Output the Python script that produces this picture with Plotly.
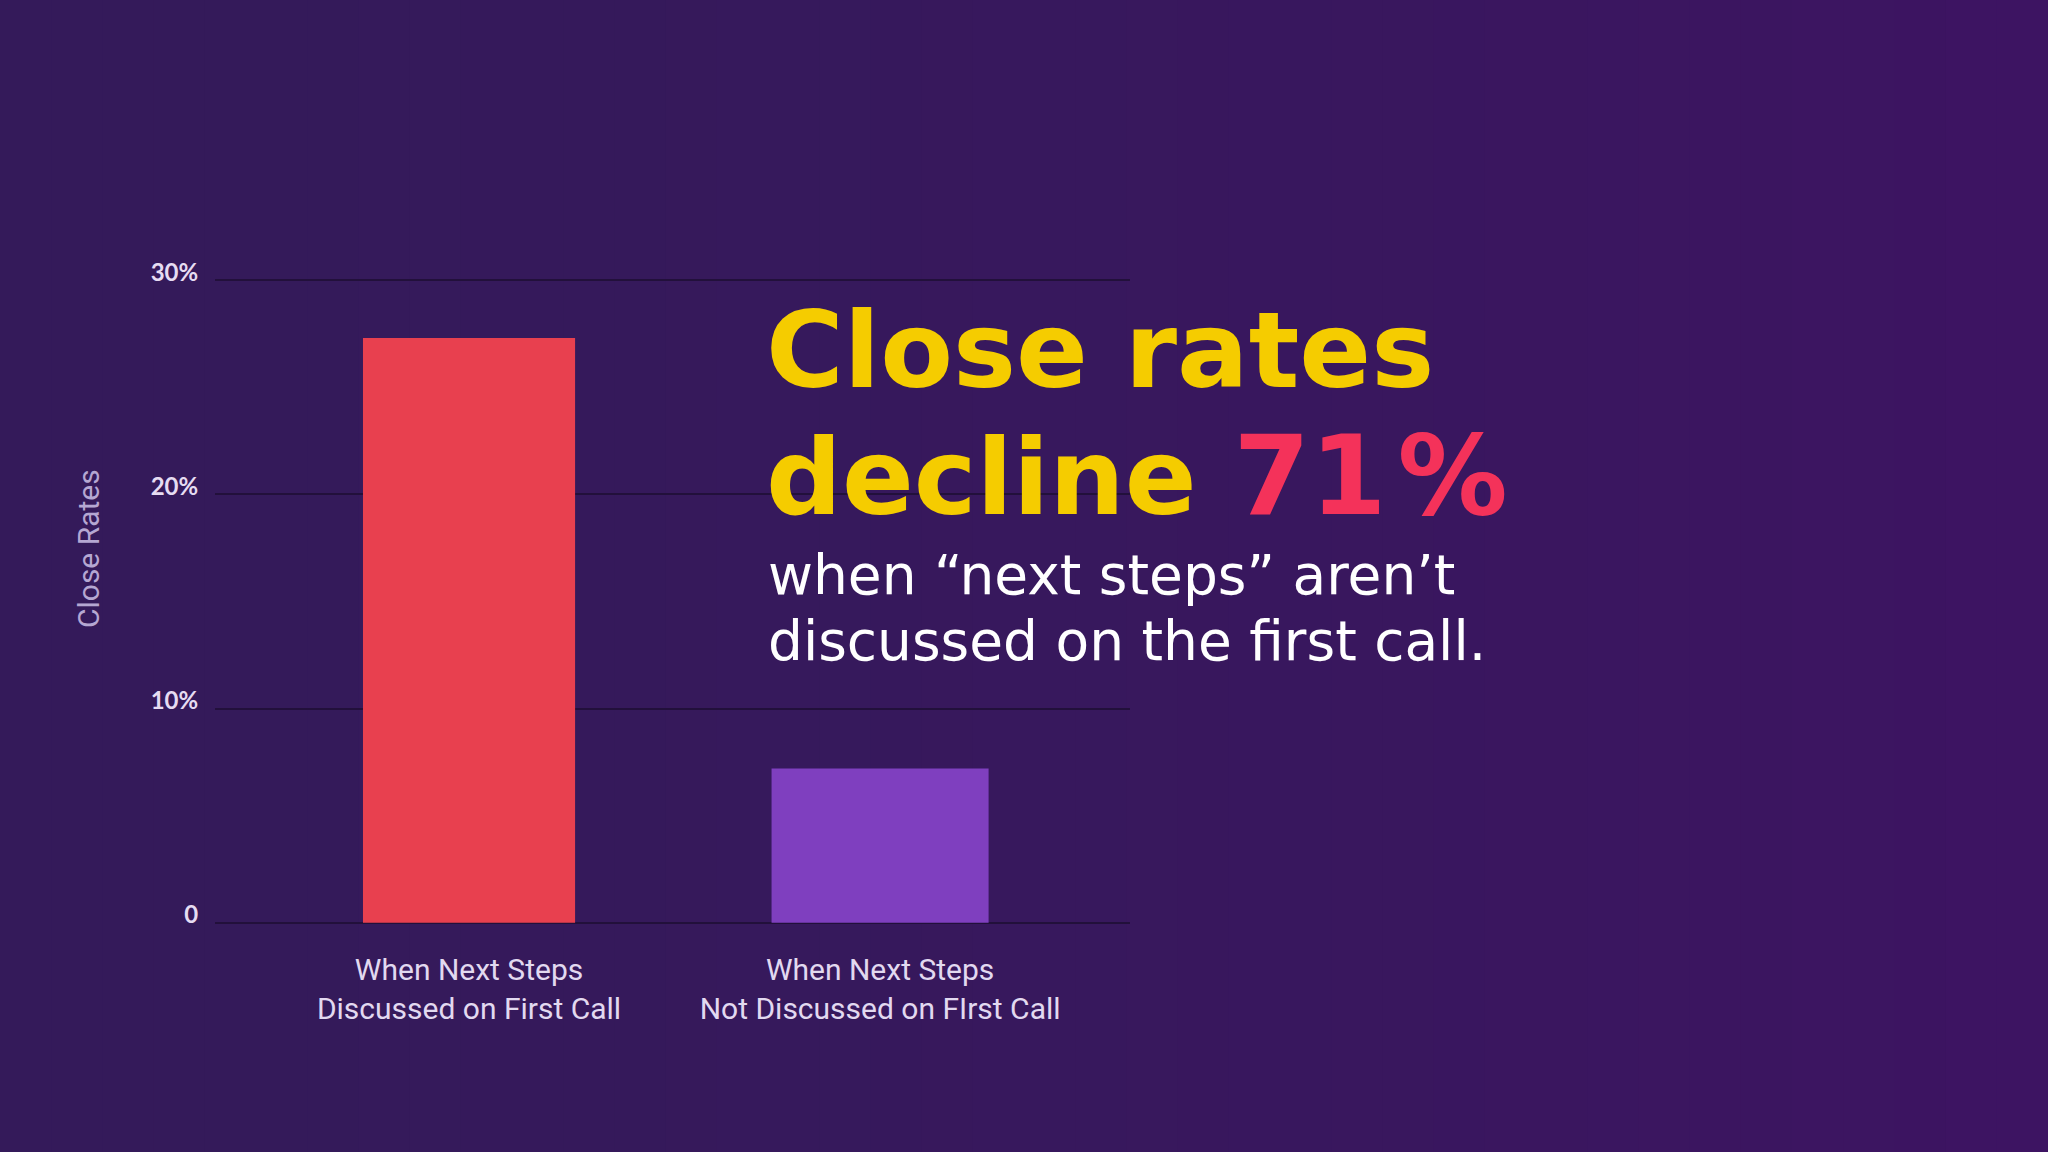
import plotly.graph_objects as go

# ---- data ----
categories = ["When Next Steps<br>Discussed on First Call",
              "When Next Steps<br>Not Discussed on FIrst Call"]
close_rates = [27.3, 7.2]
bar_colors = ["#e8404f", "#7f3fbf"]
y_tickvals = [0, 10, 20, 30]
y_ticktext = ["0", "10%", "20%", "30%"]
y_title = "Close Rates"
headline_1 = "Close rates"
headline_2a = "decline "
headline_2b = "71\u200a%"
sub_1 = "when \u201cnext steps\u201d aren\u2019t"
sub_2 = "discussed on the first call."

W, H = 2048, 1152
Y0_PX, Y30_PX = 923, 280            # pixel rows of 0% and 30%
PPU = (Y0_PX - Y30_PX) / 30.0       # pixels per percent
EXT = 0.2                           # small range extension so edge gridlines show
L, R = 215, 1130
T = Y30_PX - EXT * PPU
B = Y0_PX + EXT * PPU

def px(xp):
    return (xp - L) / (R - L)

def py(yp):
    return (B - yp) / (B - T)

fig = go.Figure()
fig.add_trace(go.Bar(
    x=categories, y=close_rates, width=[0.516, 0.528],
    marker=dict(color=bar_colors, line=dict(width=0)),
    hoverinfo="skip",
))

# background gradient strips (decoration)
c0 = (0x34, 0x1a, 0x5a)
c1 = (0x3d, 0x14, 0x62)
n = 40
shapes = []
for i in range(n):
    t = i / (n - 1)
    col = tuple(round(c0[k] + (c1[k] - c0[k]) * (t ** 1.6)) for k in range(3))
    shapes.append(dict(type="rect", xref="paper", yref="paper",
                       x0=px(i * W / n), x1=px((i + 1) * W / n + 1),
                       y0=py(H + 5), y1=py(-5),
                       fillcolor="rgb(%d,%d,%d)" % col, line=dict(width=0),
                       layer="below"))

annotations = [
    dict(text=y_title, x=px(88), y=py(549), xref="paper", yref="paper",
         textangle=-90, showarrow=False, xanchor="center", yanchor="middle",
         font=dict(family="Roboto", size=30, color="#b5a7d2")),
    dict(text=headline_1, x=px(764), y=py(350), xref="paper", yref="paper",
         showarrow=False, xanchor="left", yanchor="middle",
         font=dict(family="DejaVu Sans", size=106, color="#f5cc00", weight="bold")),
    dict(text=headline_2a + "<span style='color:#f4325a;font-size:110px'>" + headline_2b + "</span>",
         x=px(764), y=py(476), xref="paper", yref="paper",
         showarrow=False, xanchor="left", yanchor="middle",
         font=dict(family="DejaVu Sans", size=106, color="#f5cc00", weight="bold")),
    dict(text=sub_1, x=px(766), y=py(575), xref="paper", yref="paper",
         showarrow=False, xanchor="left", yanchor="middle",
         font=dict(family="DejaVu Sans", size=55, color="#ffffff")),
    dict(text=sub_2, x=px(766), y=py(641), xref="paper", yref="paper",
         showarrow=False, xanchor="left", yanchor="middle",
         font=dict(family="DejaVu Sans", size=55, color="#ffffff")),
]

fig.update_layout(
    width=W, height=H,
    margin=dict(l=L, r=W - R, t=T, b=H - B, pad=0),
    paper_bgcolor="#361a5c", plot_bgcolor="rgba(0,0,0,0)",
    showlegend=False,
    shapes=shapes, annotations=annotations,
    xaxis=dict(type="category", range=[-0.618, 1.608], showgrid=False,
               zeroline=False, showline=False,
               ticks="outside", ticklen=16, tickcolor="rgba(0,0,0,0)",
               tickfont=dict(family="Roboto", size=30, color="#e2d9f0")),
    yaxis=dict(range=[-EXT, 30 + EXT], tickvals=y_tickvals, ticktext=y_ticktext,
               showgrid=True, gridcolor="#22103b", gridwidth=2,
               zeroline=False, showline=False,
               ticks="outside", ticklen=11, tickcolor="rgba(0,0,0,0)",
               ticklabelshift=-8,
               tickfont=dict(family="Lato", size=24, color="#e6dcf2", weight="bold")),
)

fig.write_html(
    "out.html",
    config={"displayModeBar": False},
    post_script=("document.documentElement.style.margin='0';"
                 "document.body.style.margin='0';"
                 "document.body.style.overflow='hidden';"
                 "document.body.style.background='#361a5c';"),
)
